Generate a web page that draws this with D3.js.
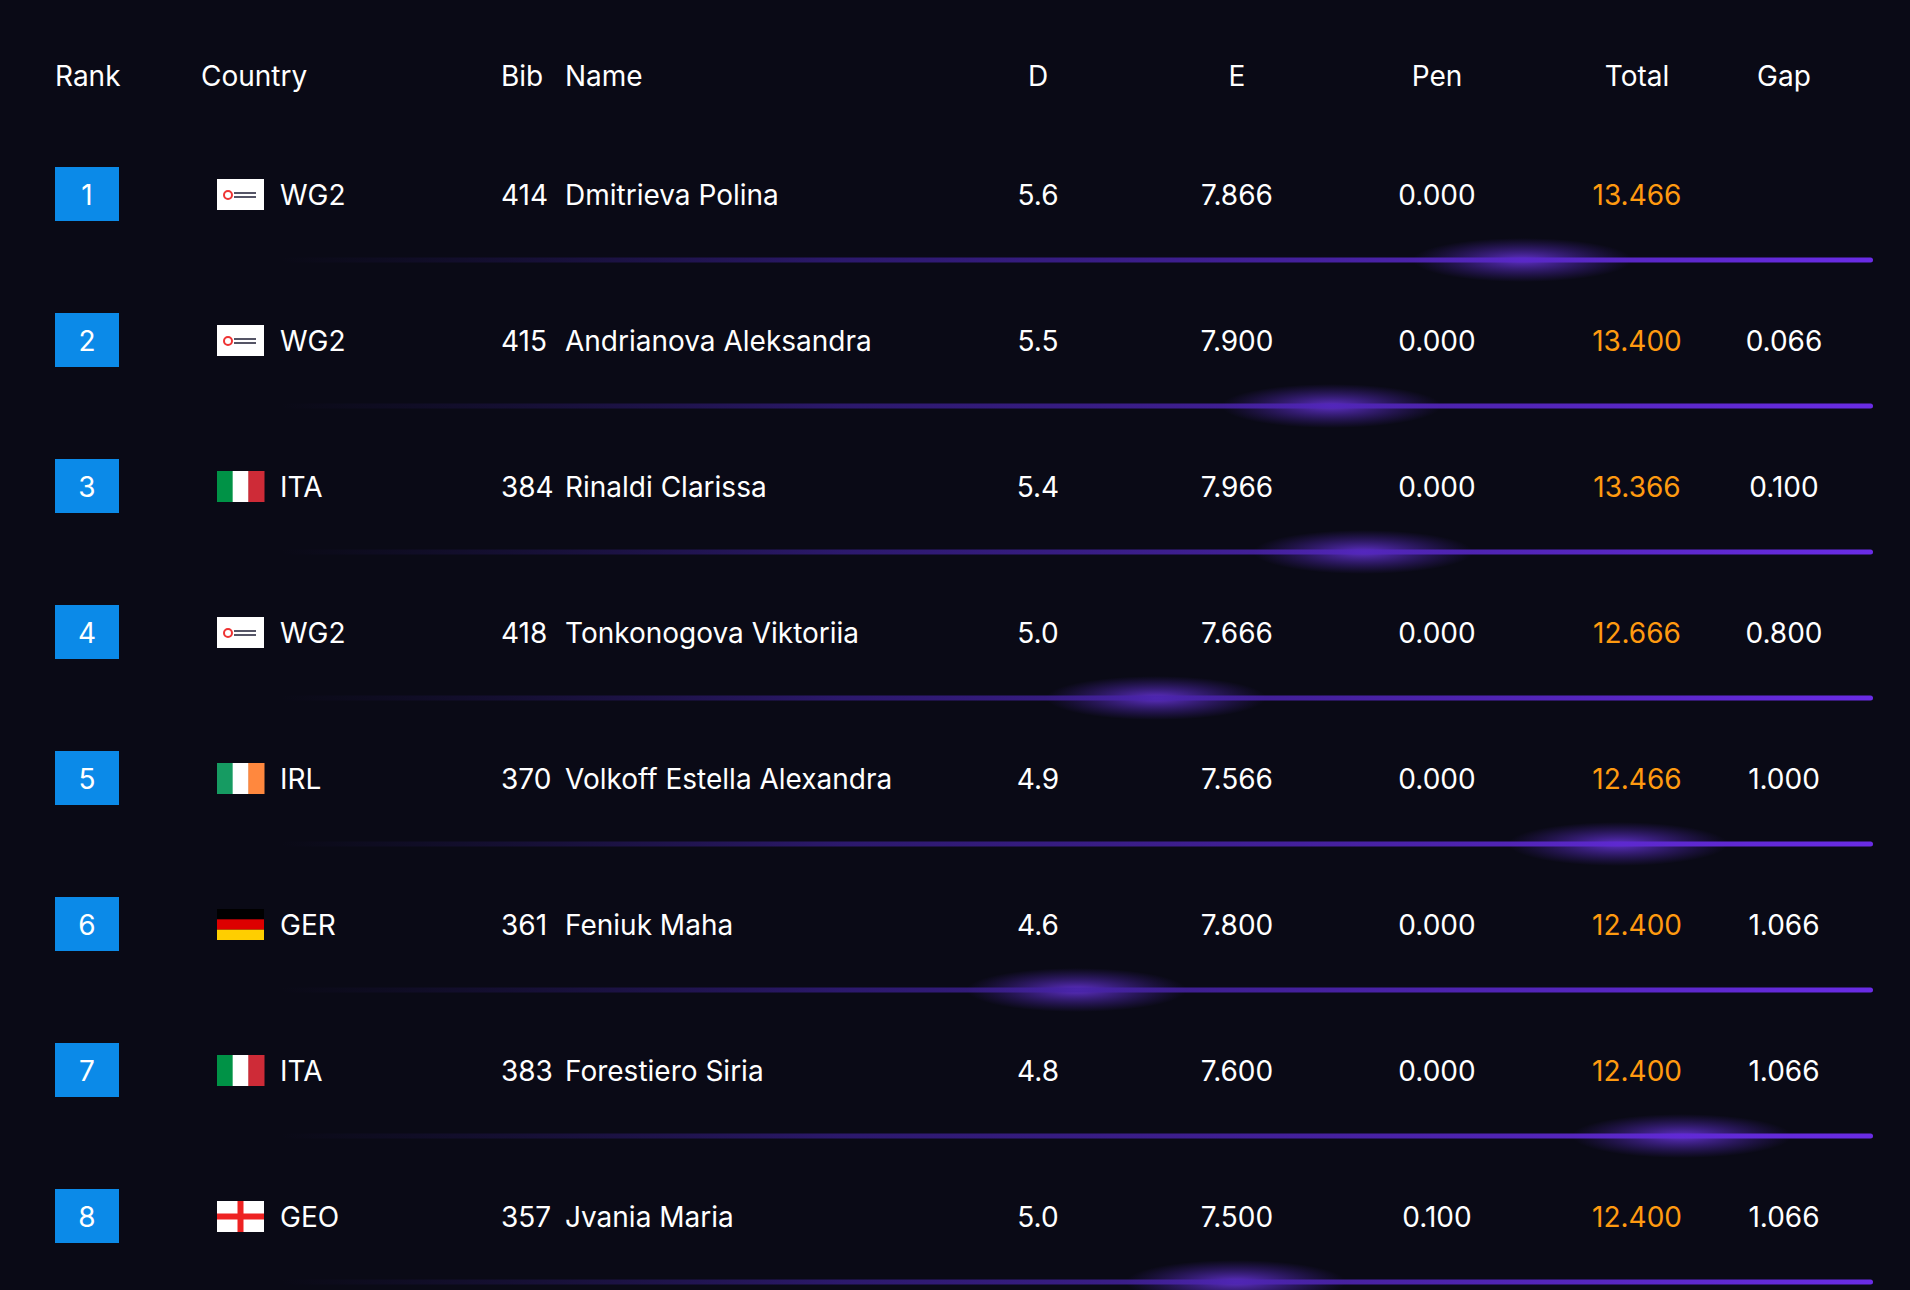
<!DOCTYPE html>
<html lang="en">
<head>
<meta charset="UTF-8"/>
<title>Results</title>
<script src="https://d3js.org/d3.v7.min.js"></script>
<style>
  body { margin:0; background:#0a0a16; }
  svg { display:block; font-family: Inter, Lato, sans-serif; }
</style>
</head>
<body>
<script>
var w = 1910, h = 1290;

// data
var ranks    = [1, 2, 3, 4, 5, 6, 7, 8];
var countries = ["WG2", "WG2", "ITA", "WG2", "IRL", "GER", "ITA", "GEO"];
var bibs     = [414, 415, 384, 418, 370, 361, 383, 357];
var names    = ["Dmitrieva Polina", "Andrianova Aleksandra", "Rinaldi Clarissa", "Tonkonogova Viktoriia",
                "Volkoff Estella Alexandra", "Feniuk Maha", "Forestiero Siria", "Jvania Maria"];
var dScores  = ["5.6", "5.5", "5.4", "5.0", "4.9", "4.6", "4.8", "5.0"];
var eScores  = ["7.866", "7.900", "7.966", "7.666", "7.566", "7.800", "7.600", "7.500"];
var pens     = ["0.000", "0.000", "0.000", "0.000", "0.000", "0.000", "0.000", "0.100"];
var totals   = ["13.466", "13.400", "13.366", "12.666", "12.466", "12.400", "12.400", "12.400"];
var gaps     = ["", "0.066", "0.100", "0.800", "1.000", "1.066", "1.066", "1.066"];
var glowAt   = [0.78, 0.66, 0.68, 0.55, 0.84, 0.50, 0.88, 0.60]; // glow spot position along each divider
var headers  = ["Rank", "Country", "Bib", "Name", "D", "E", "Pen", "Total", "Gap"];

var y = d3.scaleBand().domain(ranks).range([121, 121 + 146 * 8]);
var lineX = d3.scaleLinear().domain([0, 1]).range([280, 1873]);

var svg = d3.select("body").append("svg").attr("width", w).attr("height", h);
svg.append("rect").attr("width", w).attr("height", h).attr("fill", "#0a0a16");

var defs = svg.append("defs");
var lg = defs.append("linearGradient").attr("id", "line");
lg.append("stop").attr("offset", "0").attr("stop-color", "#2a1a6a").attr("stop-opacity", 0);
lg.append("stop").attr("offset", "0.35").attr("stop-color", "#3a1f90").attr("stop-opacity", 0.7);
lg.append("stop").attr("offset", "1").attr("stop-color", "#6a2ce6");
var rg = defs.append("radialGradient").attr("id", "glow");
rg.append("stop").attr("offset", "0").attr("stop-color", "#7a3cff").attr("stop-opacity", 0.75);
rg.append("stop").attr("offset", "1").attr("stop-color", "#5a2ad0").attr("stop-opacity", 0);

// header
var hx = [55, 201, 501, 565, 1038, 1237, 1437, 1637, 1784];
var ha = ["start", "start", "start", "start", "middle", "middle", "middle", "middle", "middle"];
svg.selectAll("text.hdr").data(headers).enter().append("text")
  .attr("class", "hdr").attr("x", function(d, i){ return hx[i]; }).attr("y", 86)
  .attr("text-anchor", function(d, i){ return ha[i]; })
  .attr("fill", "#fff").attr("font-size", 28).text(function(d){ return d; });

var rows = svg.selectAll("g.row").data(ranks).enter().append("g")
  .attr("class", "row").attr("transform", function(d){ return "translate(0," + (y(d) + 73) + ")"; });

rows.append("rect").attr("x", 55).attr("y", -27).attr("width", 64).attr("height", 54).attr("fill", "#0b8ae8");
rows.append("text").attr("x", 87).attr("y", 11).attr("text-anchor", "middle").attr("fill", "#fff")
  .attr("font-size", 28).text(function(d){ return d; });

// flags
rows.each(function(d, i){
  var g = d3.select(this).append("g").attr("transform", "translate(217,-15)");
  var c = countries[i], fw = 47, fh = 31;
  if (c === "WG2") {
    g.append("rect").attr("width", fw).attr("height", fh).attr("fill", "#fff");
    g.append("circle").attr("cx", 11).attr("cy", 16).attr("r", 4).attr("fill", "none").attr("stroke", "#e33").attr("stroke-width", 2);
    g.append("rect").attr("x", 17).attr("y", 13).attr("width", 22).attr("height", 2).attr("fill", "#556");
    g.append("rect").attr("x", 17).attr("y", 17).attr("width", 22).attr("height", 2).attr("fill", "#556");
  } else if (c === "GER") {
    ["#000", "#dd0000", "#ffce00"].forEach(function(col, k){
      g.append("rect").attr("y", k * fh / 3).attr("width", fw).attr("height", fh / 3).attr("fill", col);
    });
  } else if (c === "GEO") {
    g.append("rect").attr("width", fw).attr("height", fh).attr("fill", "#fff");
    g.append("rect").attr("x", fw / 2 - 3).attr("width", 6).attr("height", fh).attr("fill", "#e22");
    g.append("rect").attr("y", fh / 2 - 3).attr("width", fw).attr("height", 6).attr("fill", "#e22");
  } else {
    var cols = c === "ITA" ? ["#009246", "#fff", "#ce2b37"] : ["#169b62", "#fff", "#ff883e"];
    cols.forEach(function(col, k){
      g.append("rect").attr("x", k * fw / 3).attr("width", fw / 3 + 0.5).attr("height", fh).attr("fill", col);
    });
  }
});

function col(x, anchor, arr, color) {
  rows.append("text").attr("x", x).attr("y", 11).attr("text-anchor", anchor)
    .attr("fill", color || "#fff").attr("font-size", 28)
    .text(function(d, i){ return arr[i]; });
}
col(280, "start", countries);
col(501, "start", bibs);
col(565, "start", names);
col(1038, "middle", dScores);
col(1237, "middle", eScores);
col(1437, "middle", pens);
col(1637, "middle", totals, "#ff9a10");
col(1784, "middle", gaps);

// dividers
rows.append("ellipse").attr("cx", function(d, i){ return lineX(glowAt[i]); }).attr("cy", 66)
  .attr("rx", 110).attr("ry", 22).attr("fill", "url(#glow)");
rows.append("rect").attr("x", lineX(0)).attr("y", 63.5).attr("width", lineX(1) - lineX(0))
  .attr("height", 5).attr("rx", 2.5).attr("fill", "url(#line)");
</script>
</body>
</html>
